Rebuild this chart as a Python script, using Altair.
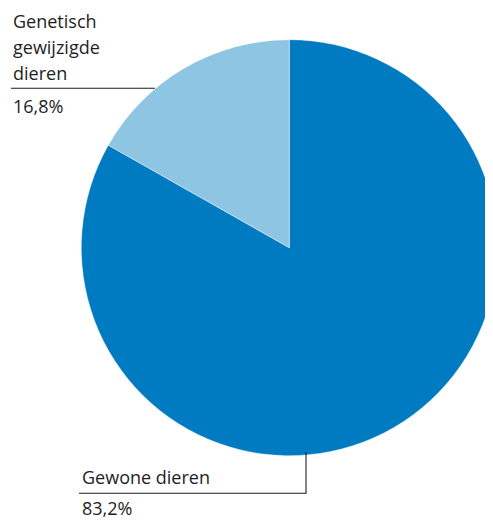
import altair as alt
import pandas as pd

categories = ["Gewone dieren", "Genetisch gewijzigde dieren"]
values = [83.2, 16.8]
label_lines = ["Gewone dieren", "Genetisch\ngewijzigde\ndieren"]
colors = ["#007bc1", "#8dc5e3"]

def pct(v):
    return f"{v:.1f}".replace(".", ",") + "%"

df = pd.DataFrame({
    "categorie": categories,
    "waarde": values,
    "volgorde": [0, 1],
})

FONT = "Open Sans"
TXT = "#1e1e1e"
CX, CY, R = 281.3, 239.7, 208

pie = alt.Chart(df).mark_arc(radius=R, stroke="#ffffff", strokeWidth=0.4).encode(
    theta=alt.Theta("waarde:Q", stack=True),
    color=alt.Color("categorie:N", scale=alt.Scale(domain=categories, range=colors), legend=None),
    order=alt.Order("volgorde:Q"),
    x=alt.value(CX),
    y=alt.value(CY),
)

def text_layer(txt, x, y):
    d = pd.DataFrame({"t": [txt]})
    return alt.Chart(d).mark_text(
        font=FONT, fontSize=18, color=TXT, align="left", baseline="alphabetic",
        lineBreak="\n", lineHeight=26,
    ).encode(text="t:N", x=alt.value(x), y=alt.value(y))

def rule(x, x2, y, y2):
    d = pd.DataFrame({"a": [0]})
    return alt.Chart(d).mark_rule(color="#1e1e1e", strokeWidth=1.1).encode(
        x=alt.value(x), x2=alt.value(x2), y=alt.value(y), y2=alt.value(y2)
    )

layers = [
    pie,
    rule(3, 147, 80.3, 80.3),
    text_layer(label_lines[1], 5, 20),
    text_layer(pct(values[1]), 5, 105),
    rule(71, 298.5, 485.3, 485.3),
    rule(298, 298, 444, 485.3),
    text_layer(label_lines[0], 74, 476.3),
    text_layer(pct(values[0]), 74, 507.3),
]

chart = alt.layer(*layers).properties(
    width=477, height=513, padding=0, autosize=alt.AutoSizeParams(type="none")
).configure_view(stroke=None)

chart.save("out.html", embed_options={"renderer": "svg", "actions": False})
